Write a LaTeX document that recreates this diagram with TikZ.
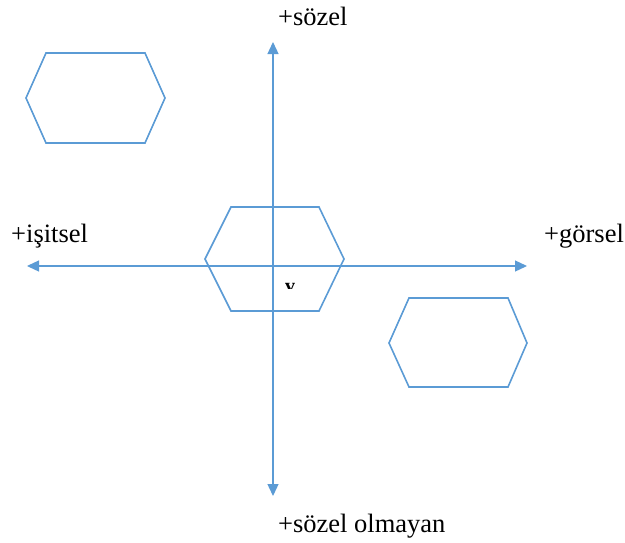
\documentclass[tikz,border=0pt]{standalone}
\usepackage{fontspec}
\setmainfont{Liberation Serif}
\usetikzlibrary{arrows.meta}
\definecolor{axblue}{HTML}{5B9BD5}
\begin{document}
\begin{tikzpicture}[x=1pt,y=-1pt,
  axis/.style={draw=axblue,line width=1.3pt,-{Triangle[length=12pt,width=11pt]}},
  hexa/.style={draw=axblue,line width=1.6pt,line join=miter},
  lbl/.style={inner sep=0pt,anchor=base west,font=\fontsize{26.5}{30}\selectfont}]
\useasboundingbox (0,0) rectangle (625,542);
\coordinate (o) at (273,266);
\coordinate (top) at (273,42);
\coordinate (bot) at (273,496);
\coordinate (lft) at (27,266);
\coordinate (rgt) at (527,266);
\draw[axis] (o) -- (top);
\draw[axis] (o) -- (bot);
\draw[axis] (o) -- (lft);
\draw[axis] (o) -- (rgt);
% hexagons
\draw[hexa] (26,98) -- (46,53) -- (145,53) -- (165,98) -- (145,143) -- (46,143) -- cycle;
\draw[hexa] (205,259) -- (231,207) -- (319,207) -- (344,259) -- (319,311) -- (231,311) -- cycle;
\draw[hexa] (389,343) -- (409,298) -- (508,298) -- (527,343) -- (508,387) -- (409,387) -- cycle;
% labels
\node[lbl] (ns) at (278,25) {+sözel};
\node[lbl] (nw) at (11,242) {+işitsel};
\node[lbl] (ne) at (544,242) {+görsel};
\node[lbl] (nso) at (278,532) {+sözel olmayan};
\begin{scope}
\clip (282,276) rectangle (298,288);
\node[inner sep=0pt,anchor=base,font=\fontsize{20}{22}\selectfont\bfseries] (v) at (290,292) {v};
\end{scope}
\end{tikzpicture}
\end{document}
